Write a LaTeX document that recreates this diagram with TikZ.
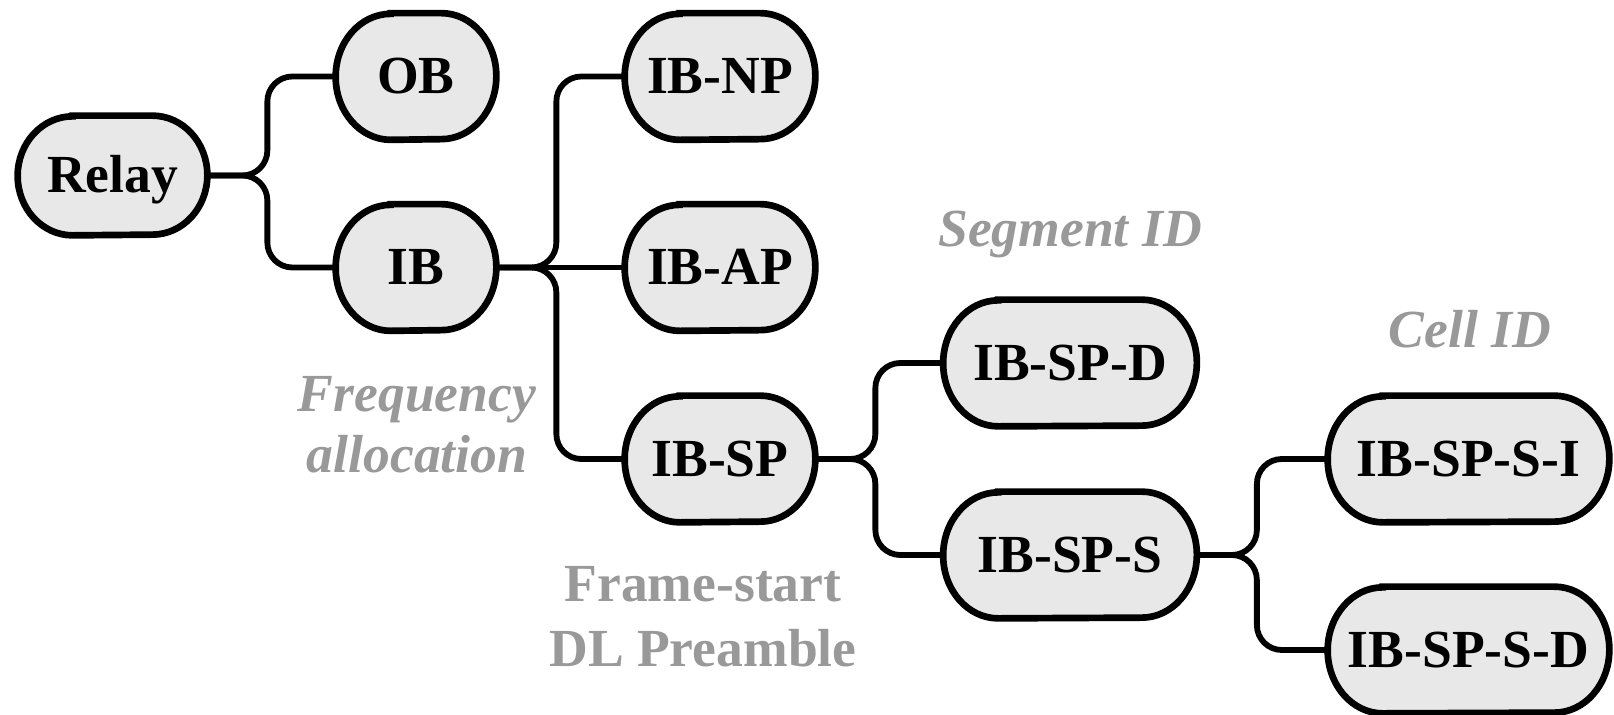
\documentclass[tikz,border=0pt]{standalone}
\usepackage{fontspec}
\setmainfont{Liberation Serif}
\usepackage{tikz}
\usetikzlibrary{positioning,backgrounds}

\definecolor{boxfill}{RGB}{232,232,232}
\definecolor{notegray}{RGB}{153,153,153}

\tikzset{
    box/.style={inner sep=0pt, minimum height=2.52cm, text height=0.7cm, text depth=0pt,
        font=\fontsize{30.5pt}{36pt}\selectfont\bfseries},
    boxline/.style={draw=black, fill=boxfill, line width=3.8pt},
    link/.style={draw=black, line width=3.3pt, rounded corners=0.5cm},
    note/.style={text=notegray, align=center, font=\fontsize{30.5pt}{36pt}\selectfont\bfseries}
}

\begin{document}
\begin{tikzpicture}
                    \useasboundingbox (0,0) rectangle (32.28,-14.30);
                    % Nodes
                    \node[box, minimum width=3.78cm, minimum height=2.38cm] (relay) at (2.25, -3.51) {Relay};
                    \node[box, minimum width=3.20cm] (ob) at (8.32, -1.53) {OB};
                    \node[box, minimum width=3.20cm] (ib) at (8.32, -5.35) {IB};
                    \node[box, minimum width=3.80cm] (ibnp) at (14.40, -1.53) {IB-NP};
                    \node[box, minimum width=3.80cm] (ibap) at (14.40, -5.35) {IB-AP};
                    \node[box, minimum width=3.80cm] (ibsp) at (14.40, -9.18) {IB-SP};
                    \node[box, minimum width=5.06cm] (ibspd) at (21.40, -7.26) {IB-SP-D};
                    \node[box, minimum width=5.06cm] (ibsps) at (21.40, -11.10) {IB-SP-S};
                    \node[box, minimum width=5.62cm] (ibspsi) at (29.37, -9.18) {IB-SP-S-I};
                    \node[box, minimum width=5.62cm] (ibspsd) at (29.37, -13.00) {IB-SP-S-D};
                    % Outlines
                    \begin{scope}[on background layer]
                        \foreach \n/\ry in {relay/1.19, ob/1.26, ib/1.26, ibnp/1.26, ibap/1.26,
                            ibsp/1.26, ibspd/1.26, ibsps/1.26, ibspsi/1.26, ibspsd/1.26} {
                            \path[boxline] ([xshift=1.1cm]\n.north west) -- ([xshift=-1.1cm]\n.north east)
                                arc[start angle=90, end angle=-90, x radius=1.1cm, y radius=\ry cm]
                                -- ([xshift=1.1cm]\n.south west)
                                arc[start angle=270, end angle=90, x radius=1.1cm, y radius=\ry cm] -- cycle;
                        }
                    \end{scope}
                    % Links
                    \draw[link] (relay.east) -- ++(1.2,0) |- (ob.west);
                    \draw[link] (relay.east) -- ++(1.2,0) |- (ib.west);
                    \draw[link] (ib.east) -- ++(1.2,0) |- (ibnp.west);
                    \draw[link] (ib.east) -- (ibap.west);
                    \draw[link] (ib.east) -- ++(1.2,0) |- (ibsp.west);
                    \draw[link] (ibsp.east) -- ++(1.2,0) |- (ibspd.west);
                    \draw[link] (ibsp.east) -- ++(1.2,0) |- (ibsps.west);
                    \draw[link] (ibsps.east) -- ++(1.2,0) |- (ibspsi.west);
                    \draw[link] (ibsps.east) -- ++(1.2,0) |- (ibspsd.west);
                    % Labels
                    \node[note, font=\fontsize{30.5pt}{34.6pt}\selectfont\bfseries\itshape] (freq) at (8.34, -8.50) {Frequency\\allocation};
                    \node[note, font=\fontsize{30.5pt}{37pt}\selectfont\bfseries] (frame) at (14.06, -12.34) {Frame-start\\DL Preamble};
                    \node[note, anchor=base, font=\fontsize{30.5pt}{36pt}\selectfont\bfseries\itshape] (segid) at (21.40, -4.94) {Segment ID};
                    \node[note, anchor=base, font=\fontsize{30.5pt}{36pt}\selectfont\bfseries\itshape] (cellid) at (29.40, -6.96) {Cell ID};
                \end{tikzpicture}
\end{document}
